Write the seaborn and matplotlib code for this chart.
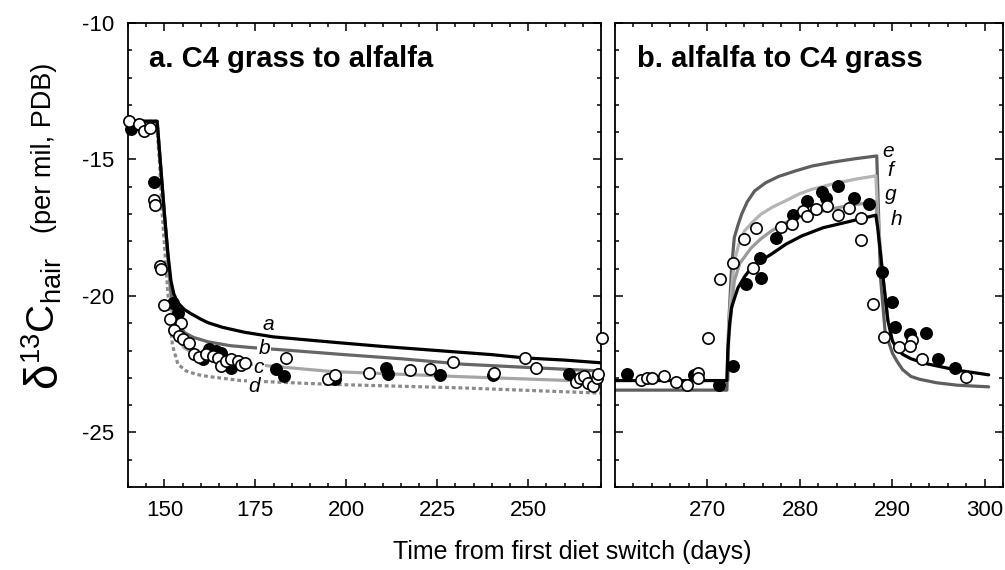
import numpy as np
import pandas as pd
import matplotlib
matplotlib.use("Agg")
import matplotlib.pyplot as plt
from matplotlib.ticker import MultipleLocator
import seaborn as sns

# ---------------- data ----------------
# Panel a: model curves (days, delta13C)
a_x = [140, 148.0, 149.0, 150.0, 151.0, 151.8, 152.6, 153.7, 155.5, 157.3, 160, 162, 166, 172, 180, 190, 198.5, 210, 225, 240, 249, 260, 270]
a_y = [-13.6, -13.6, -15.3, -17.0, -18.5, -19.45, -19.93, -20.25, -20.5, -20.65, -20.85, -20.98, -21.15, -21.33, -21.5, -21.62, -21.72, -21.85, -22.0, -22.15, -22.27, -22.35, -22.45]
b_x = [140, 148.0, 149.0, 150.0, 151.0, 151.8, 152.5, 153.5, 155.5, 158, 162, 168, 173.8, 185, 198.5, 215, 232, 250, 270]
b_y = [-13.6, -13.6, -15.3, -17.0, -18.6, -19.8, -20.5, -20.95, -21.34, -21.52, -21.68, -21.82, -21.89, -22.0, -22.14, -22.3, -22.5, -22.62, -22.75]
c_x = [140, 148.0, 149.0, 150.0, 151.0, 151.8, 152.5, 153.5, 155.4, 158, 162, 170, 178.5, 196, 232, 270]
c_y = [-13.6, -13.6, -15.3, -17.0, -18.7, -20.2, -21.0, -21.5, -21.9, -22.1, -22.27, -22.45, -22.56, -22.77, -22.96, -23.14]
d_x = [140, 147.8, 148.6, 149.4, 150.2, 150.9, 151.5, 152.2, 153.7, 156, 159, 162, 171, 185, 196, 232, 270]
d_y = [-13.6, -13.6, -15.0, -17.0, -18.5, -19.8, -20.8, -21.8, -22.5, -22.75, -22.88, -22.95, -23.1, -23.18, -23.24, -23.37, -23.56]

# Panel a: observations
a_filled_x = [140.8, 147.2, 152.3, 153.7, 160.5, 162.3, 164.2, 165.5, 168.3, 180.7, 182.9, 197.0, 210.9, 211.4, 225.7, 240.2, 261.2]
a_filled_y = [-13.9, -15.81, -20.27, -20.61, -22.32, -21.95, -22.01, -22.08, -22.65, -22.69, -22.93, -23.05, -22.63, -22.87, -22.89, -22.89, -22.87]
a_open_x = [140.4, 143.1, 144.5, 146.1, 147.2, 147.4, 148.8, 149.1, 150.0, 151.6, 154.6, 152.7, 154.1, 155.0, 156.8, 158.2, 159.6, 161.4,
            163.3, 164.6, 165.5, 166.9, 168.3, 170.1, 171.0, 172.1, 183.4, 194.9, 196.8, 206.3, 217.6, 223.0, 229.2, 240.6,
            249.1, 252.1, 263.1, 264.3, 265.4, 266.3, 267.7, 269.0, 269.2, 270.4]
a_open_y = [-13.59, -13.71, -13.96, -13.86, -16.5, -16.67, -18.9, -19.0, -20.33, -20.85, -20.98, -21.26, -21.47, -21.59, -21.71, -22.14, -22.23, -22.14,
            -22.2, -22.28, -22.56, -22.38, -22.32, -22.38, -22.53, -22.44, -22.28, -23.05, -22.89, -22.81, -22.72, -22.69, -22.42, -22.84,
            -22.28, -22.65, -23.14, -22.99, -22.93, -23.18, -23.3, -22.99, -22.87, -21.53]

# Panel b: model curves
e_x = [260, 272.1, 272.3, 272.6, 272.9, 273.3, 273.7, 274.3, 275.1, 276.3, 277.7, 279.5, 281.3, 283.5, 286, 288.3, 288.45, 288.7,
       289.2, 289.7, 290.0, 290.5, 291.1, 292.0, 292.9, 294.75, 297, 300.4]
e_y = [-23.45, -23.45, -21.0, -19.0, -17.86, -17.4, -17.0, -16.55, -16.15, -15.85, -15.62, -15.42, -15.24, -15.1, -14.97, -14.87, -16.5, -19.3,
       -21.3, -21.8, -22.1, -22.4, -22.7, -22.95, -23.05, -23.18, -23.27, -23.33]
f_x = [272.2, 272.3, 272.6, 272.9, 273.4, 274.0, 275.0, 275.8, 277.0, 278.4, 280.0, 281.3, 283.5, 286.0, 288.2, 288.4, 288.9, 289.5]
f_y = [-23.1, -21.0, -19.8, -18.72, -18.1, -17.62, -17.25, -17.0, -16.75, -16.52, -16.25, -16.09, -15.9, -15.72, -15.6, -17.0, -19.1, -20.9]
g_x = [272.2, 272.3, 272.6, 272.9, 273.5, 274.75, 275.8, 276.9, 278.5, 280.0, 281.3, 283.5, 286.0, 288.2, 288.4, 288.9, 289.5]
g_y = [-23.1, -21.5, -20.5, -19.45, -18.8, -18.23, -17.9, -17.62, -17.3, -17.1, -17.0, -16.8, -16.65, -16.55, -17.3, -19.1, -20.9]
h_x = [260, 272.1, 272.2, 272.4, 272.6, 273.0, 273.3, 274.0, 274.75, 275.8, 276.9, 278.5, 280.2, 282.5, 285.0, 288.2, 288.4, 288.9,
       289.5, 290.0, 290.5, 291.1, 292.0, 293.5, 294.75, 297.0, 300.4]
h_y = [-23.1, -23.1, -22.0, -21.0, -20.43, -20.0, -19.7, -19.3, -18.96, -18.7, -18.47, -18.1, -17.8, -17.5, -17.3, -17.04, -17.5, -19.08,
       -20.9, -21.65, -21.95, -22.14, -22.3, -22.47, -22.56, -22.72, -22.89]

# Panel b: observations
b_filled_x = [261.3, 268.5, 271.2, 272.8, 274.2, 275.7, 275.8, 277.4, 279.2, 280.75, 282.4, 282.8, 284.1, 285.8, 287.5,
              288.9, 290.0, 290.3, 291.9, 293.6, 294.9, 296.75]
b_filled_y = [-22.85, -22.89, -23.26, -22.56, -19.57, -18.6, -19.35, -17.89, -17.03, -16.52, -16.18, -16.42, -15.97, -16.4, -16.62,
              -19.11, -20.21, -21.14, -21.38, -21.34, -22.32, -22.65]
b_open_x = [262.8, 263.5, 264.0, 265.3, 266.6, 267.8, 269.0, 269.0, 270.1, 271.4, 272.8, 274.0, 275.2, 274.9, 278.0, 279.1,
            280.3, 280.75, 281.7, 282.9, 284.1, 285.3, 286.6, 286.6, 287.9, 289.1, 290.7, 292.1, 291.9, 293.2, 298.0]
b_open_y = [-23.09, -22.99, -22.99, -22.93, -23.15, -23.26, -22.81, -23.01, -21.53, -19.37, -18.78, -17.92, -17.52, -18.96, -17.47, -17.37,
            -16.89, -17.07, -16.83, -16.7, -17.03, -16.79, -17.13, -17.96, -20.28, -21.5, -21.87, -21.62, -21.83, -22.3, -22.97]

curve_labels_a = ["a", "b", "c", "d"]
curve_labels_b = ["e", "f", "g", "h"]
panel_titles = ["a. C4 grass to alfalfa", "b. alfalfa to C4 grass"]
xlabel = "Time from first diet switch (days)"

# ---------------- style ----------------
sns.set_style("ticks")
plt.rcParams["font.family"] = ["Liberation Sans", "DejaVu Sans"]
plt.rcParams["mathtext.fontset"] = "custom"
plt.rcParams["mathtext.rm"] = "Liberation Sans"
plt.rcParams["mathtext.it"] = "Liberation Sans:italic"
plt.rcParams["axes.linewidth"] = 1.3
for k in ("text.color", "axes.labelcolor", "xtick.color", "ytick.color", "axes.edgecolor"):
    plt.rcParams[k] = "black"

W, H = 1005, 570
fig = plt.figure(figsize=(W / 100, H / 100), dpi=100)
ax1 = fig.add_axes([0.1274, 0.1456, 0.4706, 0.8140])
ax2 = fig.add_axes([0.6119, 0.1456, 0.3866, 0.8140])

LW = 2.3
MS = 66

def line(ax, x, y, color, ls="-", z=2):
    df = pd.DataFrame({"x": x, "y": y})
    sns.lineplot(data=df, x="x", y="y", ax=ax, color=color, lw=LW, linestyle=ls,
                 sort=False, estimator=None, zorder=z, legend=False)

def pts(ax, x, y, fc, z):
    df = pd.DataFrame({"x": x, "y": y})
    sns.scatterplot(data=df, x="x", y="y", ax=ax, color=fc, edgecolor="black",
                    linewidth=1.2, s=MS, zorder=z, clip_on=False, legend=False)

# Panel a
line(ax1, d_x, d_y, "#8a8a8a", ls=(0, (1.2, 0.9)))
line(ax1, c_x, c_y, "#a6a6a6")
line(ax1, b_x, b_y, "#666666")
line(ax1, a_x, a_y, "black")
pts(ax1, a_filled_x, a_filled_y, "black", 4)
pts(ax1, a_open_x, a_open_y, "white", 5)

# Panel b
line(ax2, e_x, e_y, "#5e5e5e")
line(ax2, f_x, f_y, "#b4b4b4")
line(ax2, g_x, g_y, "#9a9a9a")
line(ax2, h_x, h_y, "black", z=3)
pts(ax2, b_filled_x, b_filled_y, "black", 4)
pts(ax2, b_open_x, b_open_y, "white", 5)

# curve labels
lab_kw = dict(fontsize=15, style="italic", ha="center", va="center", zorder=3)
bb = dict(facecolor="white", edgecolor="none", pad=0.6)
ax1.text(178.7, -21.03, curve_labels_a[0], **lab_kw)
ax1.text(177.4, -21.92, curve_labels_a[1], bbox=bb, **lab_kw)
ax1.text(176.0, -22.62, curve_labels_a[2], bbox=bb, **lab_kw)
ax1.text(174.6, -23.33, curve_labels_a[3], bbox=bb, **lab_kw)
ax2.text(289.5, -14.69, curve_labels_b[0], **lab_kw)
ax2.text(289.8, -15.42, curve_labels_b[1], **lab_kw)
ax2.text(289.8, -16.27, curve_labels_b[2], **lab_kw)
ax2.text(290.4, -17.19, curve_labels_b[3], **lab_kw)

# axes settings
for ax in (ax1, ax2):
    ax.set_ylim(-27, -10)
    ax.yaxis.set_major_locator(MultipleLocator(5))
    ax.yaxis.set_minor_locator(MultipleLocator(1))
    ax.tick_params(which="both", direction="in", top=True, right=True, width=1.1)
    ax.tick_params(which="major", length=6, labelsize=16)
    ax.tick_params(axis="x", which="major", pad=9)
    ax.tick_params(which="minor", length=3.2)
    ax.set_xlabel("")
    ax.set_ylabel("")
    for s in ax.spines.values():
        s.set_visible(True)
        s.set_linewidth(1.3)

ax1.set_xlim(140, 270)
ax1.xaxis.set_major_locator(MultipleLocator(25))
ax1.xaxis.set_minor_locator(MultipleLocator(5))
ax2.set_xlim(260, 302)
ax2.set_xticks([270, 280, 290, 300])
ax2.xaxis.set_minor_locator(MultipleLocator(2))
ax2.tick_params(labelleft=False)

ax1.set_yticks([-10, -15, -20, -25])
ax1.set_yticklabels(["-10", "-15", "-20", "-25"])
ax1.tick_params(axis="y", pad=10)

ax1.text(0.045, 0.922, panel_titles[0], transform=ax1.transAxes, fontsize=21,
         fontweight="bold", ha="left", va="center")
ax2.text(0.057, 0.922, panel_titles[1], transform=ax2.transAxes, fontsize=21,
         fontweight="bold", ha="left", va="center")

fig.text(0.569, 0.032, xlabel, ha="center", va="center", fontsize=18)

def ylab(px, py, s, size):
    fig.text(px / W, 1 - py / H, s, rotation=90, rotation_mode="anchor",
             ha="left", va="baseline", fontsize=size)

ylab(56, 388, "δ", 33)
ylab(56, 364, r"$^{13}$C$_{\rm hair}$", 28)
ylab(51, 233, "(per mil, PDB)", 19.5)

fig.savefig("out.png", dpi=100)
